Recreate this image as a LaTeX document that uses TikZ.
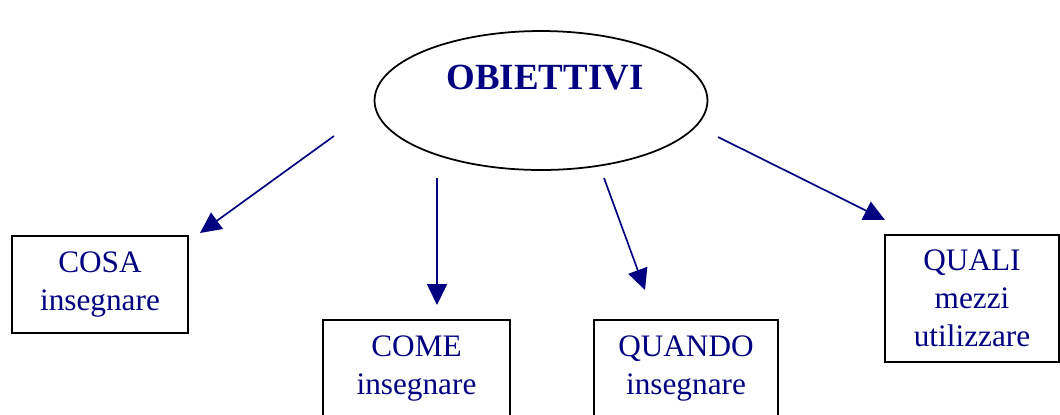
\documentclass[tikz,border=0pt]{standalone}
\usepackage{fontspec}
\setmainfont{Liberation Serif}
\usepackage{tikz}
\usetikzlibrary{arrows.meta, shapes.geometric}
\definecolor{obnavy}{RGB}{0, 0, 128}

\begin{document}
\begin{tikzpicture}[x=0.02cm, y=-0.02cm,
    boxnode/.style={draw, line width=1.1pt, minimum width=3.52cm, minimum height=1.94cm,
        align=center, text=obnavy, font=\fontsize{17.8}{21.5}\selectfont},
    arr/.style={obnavy, line width=0.95pt, -{Triangle[length=0.42cm, width=0.4cm]}}]
    \useasboundingbox (0,0) rectangle (1060,414);

    % Objectives ellipse at the top
    \node[draw, ellipse, line width=1pt, minimum width=6.66cm, minimum height=2.78cm] (obiettivi) at (541,100.5) {};
    \node[text=obnavy, font=\bfseries\fontsize{21}{24}\selectfont] (obtext) at (545,78) {OBIETTIVI};

    % Boxes below
    \node[boxnode] (cosa) at (100,284.5) {COSA\\insegnare};
    \node[boxnode, minimum width=3.74cm] (come) at (416.5,368.5) {COME\\insegnare};
    \node[boxnode, minimum width=3.68cm] (quando) at (686,368.5) {QUANDO\\insegnare};
    \node[boxnode, minimum width=3.48cm, minimum height=2.54cm] (quali) at (972,298.5) {QUALI\\mezzi\\utilizzare};

    % Arrow end points
    \coordinate (cosaS) at (334,136);
    \coordinate (cosaE) at (200,233);
    \coordinate (comeS) at (437,178);
    \coordinate (comeE) at (437,305);
    \coordinate (quandoS) at (604,178);
    \coordinate (quandoE) at (645,290);
    \coordinate (qualiS) at (718,137);
    \coordinate (qualiE) at (885,220);

    % Connecting arrows
    \draw[arr] (cosaS) -- (cosaE);
    \draw[arr] (comeS) -- (comeE);
    \draw[arr] (quandoS) -- (quandoE);
    \draw[arr] (qualiS) -- (qualiE);
\end{tikzpicture}
\end{document}
